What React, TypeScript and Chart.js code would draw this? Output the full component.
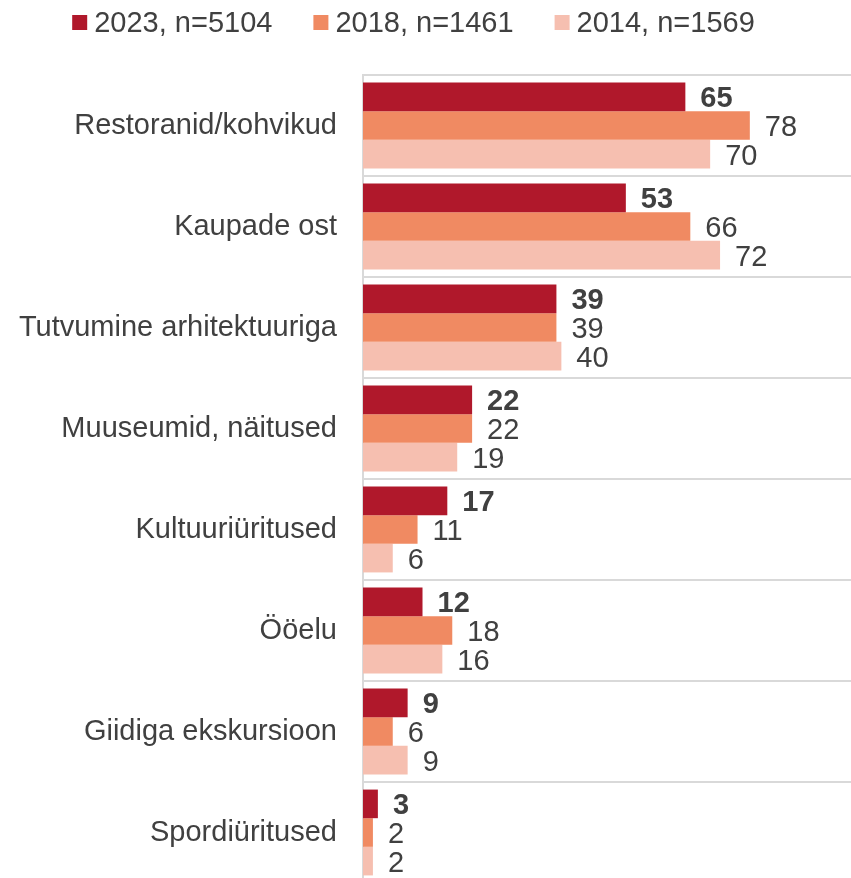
import React, { useEffect, useRef } from "react";
import { Chart, registerables } from "chart.js";

Chart.register(...registerables);

const categories = [
  "Restoranid/kohvikud",
  "Kaupade ost",
  "Tutvumine arhitektuuriga",
  "Muuseumid, näitused",
  "Kultuuriüritused",
  "Ööelu",
  "Giidiga ekskursioon",
  "Spordiüritused",
];
const seriesLabels = ["2023, n=5104", "2018, n=1461", "2014, n=1569"];
const values2023 = [65, 53, 39, 22, 17, 12, 9, 3];
const values2018 = [78, 66, 39, 22, 11, 18, 6, 2];
const values2014 = [70, 72, 40, 19, 6, 16, 9, 2];
const colors = ["#B0182B", "#F08A62", "#F6BFB0"];

const FONT = "'Liberation Sans', Arial, sans-serif";
const TEXT = "#404040";

const legendPlugin = {
  id: "customLegend",
  afterDraw(chart: any) {
    const ctx = chart.ctx;
    ctx.save();
    ctx.font = `29px ${FONT}`;
    const box = 15;
    const gapBox = 7;
    const gapItem = 41;
    const widths = seriesLabels.map((l) => ctx.measureText(l).width);
    let total = 0;
    widths.forEach((w, i) => {
      total += box + gapBox + w + (i < widths.length - 1 ? gapItem : 0);
    });
    let x = (chart.width - total) / 2 - 12;
    seriesLabels.forEach((l, i) => {
      ctx.fillStyle = colors[i];
      ctx.fillRect(x, 15, box, box);
      x += box + gapBox;
      ctx.fillStyle = TEXT;
      ctx.textAlign = "left";
      ctx.textBaseline = "alphabetic";
      ctx.fillText(l, x, 32);
      x += widths[i] + gapItem;
    });
    ctx.restore();
  },
};

const valueLabelPlugin = {
  id: "valueLabels",
  afterDatasetsDraw(chart: any) {
    const ctx = chart.ctx;
    ctx.save();
    chart.data.datasets.forEach((ds: any, di: number) => {
      const meta = chart.getDatasetMeta(di);
      ctx.font = `${di === 0 ? "bold " : ""}29px ${FONT}`;
      ctx.fillStyle = TEXT;
      ctx.textAlign = "left";
      ctx.textBaseline = "alphabetic";
      meta.data.forEach((el: any, i: number) => {
        ctx.fillText(String(ds.data[i]), el.x + 15, el.y + 10.5);
      });
    });
    ctx.restore();
  },
};

export default function App() {
  const ref = useRef<HTMLCanvasElement>(null);
  useEffect(() => {
    if (!ref.current) return;
    const chart = new Chart(ref.current, {
      type: "bar",
      data: {
        labels: categories,
        datasets: [
          { label: seriesLabels[0], data: values2023, backgroundColor: colors[0] },
          { label: seriesLabels[1], data: values2018, backgroundColor: colors[1] },
          { label: seriesLabels[2], data: values2014, backgroundColor: colors[2] },
        ],
      },
      options: {
        indexAxis: "y",
        responsive: false,
        animation: false,
        layout: { padding: { top: 75, left: 0, right: 0, bottom: 0 } },
        datasets: {
          bar: { categoryPercentage: 0.85, barPercentage: 1, borderWidth: 0 },
        },
        plugins: {
          legend: { display: false },
          tooltip: { enabled: false },
        },
        scales: {
          x: { display: false, min: 0, max: 98.4 },
          y: {
            afterFit(scale: any) {
              scale.width = 363;
              scale.paddingTop = 0;
              scale.paddingBottom = 0;
            },
            grid: {
              display: true,
              offset: true,
              color: "#D9D9D9",
              lineWidth: 2,
              drawTicks: false,
            },
            border: { display: true, color: "#D9D9D9", width: 2 },
            ticks: {
              padding: 26,
              color: TEXT,
              font: { family: FONT, size: 29 },
            },
          },
        },
      },
      plugins: [legendPlugin, valueLabelPlugin],
    });
    return () => chart.destroy();
  }, []);
  return (
    <div
      style={{
        position: "fixed",
        left: 0,
        top: 0,
        width: 851,
        height: 878,
        overflow: "hidden",
        background: "#fff",
      }}
    >
      <canvas ref={ref} width={851} height={883} style={{ display: "block" }} />
    </div>
  );
}
